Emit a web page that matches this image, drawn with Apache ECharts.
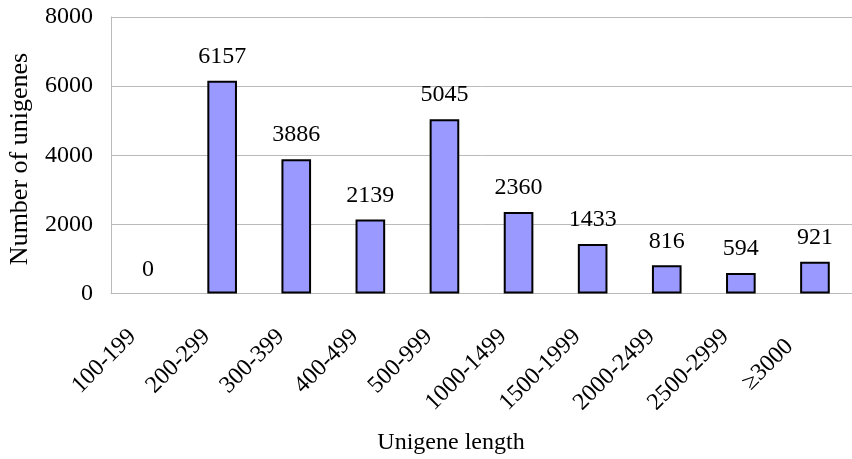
<!DOCTYPE html>
<html>
<head>
<meta charset="utf-8">
<script src="https://cdn.jsdelivr.net/npm/echarts@6/dist/echarts.min.js"></script>
<style>
  html, body { margin: 0; padding: 0; background: #fff; }
  #chart { width: 852px; height: 459px; }
</style>
</head>
<body>
<div id="chart"></div>
<script>
// Length classes of assembled unigenes
const categories = ['100-199', '200-299', '300-399', '400-499', '500-999',
  '1000-1499', '1500-1999', '2000-2499', '2500-2999', '≥3000'];
// Unigene count in each length class
const counts = [0, 6157, 3886, 2139, 5045, 2360, 1433, 816, 594, 921];
// Value axis ticks
const yTicks = [0, 2000, 4000, 6000, 8000];

const FONT = '"Liberation Serif", "Times New Roman", serif';

const chart = echarts.init(document.getElementById('chart'), null, { renderer: 'canvas' });

// The open-ended class label sits a little further back from its tick
const categoryItems = categories.map((c, i) =>
  i === categories.length - 1
    ? { value: c, textStyle: { padding: [0, 36, 0, 0] } }
    : c);

// Empty classes get no outline
const barItems = counts.map(v =>
  v === 0 ? { value: v, itemStyle: { borderWidth: 0 } } : v);

chart.setOption({
  animation: false,
  backgroundColor: '#ffffff',
  grid: { left: 111, top: 17, bottom: 165.5, width: 752, containLabel: false },
  xAxis: {
    type: 'category',
    data: categoryItems,
    boundaryGap: true,
    axisLine: { show: true, lineStyle: { color: '#bababa', width: 1 } },
    axisTick: { show: false },
    axisLabel: {
      interval: 0,
      rotate: 45,
      margin: 24,
      padding: [0, 22, 0, 0],
      fontFamily: FONT,
      fontSize: 24,
      color: '#000'
    }
  },
  yAxis: {
    type: 'value',
    min: yTicks[0],
    max: yTicks[yTicks.length - 1],
    interval: yTicks[1] - yTicks[0],
    axisLine: { show: true, lineStyle: { color: '#bababa', width: 1 } },
    axisTick: { show: false },
    splitLine: { show: true, lineStyle: { color: '#bababa', width: 1 } },
    axisLabel: {
      margin: 18,
      fontFamily: FONT,
      fontSize: 24,
      color: '#000',
      formatter: v => String(v)
    }
  },
  series: [{
    type: 'bar',
    data: barItems,
    barWidth: '40%',
    itemStyle: { color: '#9999ff', borderColor: '#000', borderWidth: 2 },
    label: {
      show: true,
      position: 'top',
      distance: 12,
      fontFamily: FONT,
      fontSize: 24,
      lineHeight: 24,
      color: '#000'
    }
  }],
  graphic: [
    {
      type: 'text',
      x: 451, y: 443,
      style: {
        text: 'Unigene length',
        font: '24px ' + FONT,
        fill: '#000',
        align: 'center',
        verticalAlign: 'middle'
      }
    },
    {
      type: 'text',
      x: 20, y: 159,
      rotation: Math.PI / 2,
      style: {
        text: 'Number of unigenes',
        font: '26px ' + FONT,
        fill: '#000',
        align: 'center',
        verticalAlign: 'middle'
      }
    }
  ]
});
</script>
</body>
</html>
